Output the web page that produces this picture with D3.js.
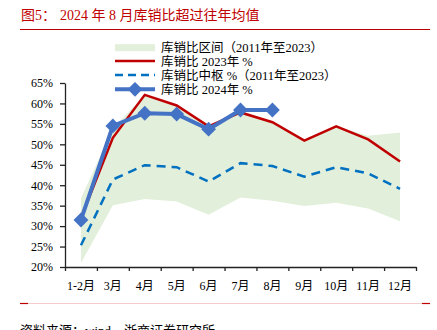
<!DOCTYPE html>
<html><head><meta charset="utf-8">
<script src="https://cdn.jsdelivr.net/npm/d3@7"></script>
<style>
html,body{margin:0;padding:0;background:#fff;}
svg{display:block;}
text{font-family:"Liberation Serif","Times New Roman","Noto Sans CJK SC",serif;}
</style></head>
<body>
<svg id="c" width="437" height="330"></svg>
<script>
const categories = ["1-2月","3月","4月","5月","6月","7月","8月","9月","10月","11月","12月"];
const rangeUpper = [36.8,53.8,62.1,59.5,54.4,57.8,55.4,50.9,54.4,52.1,52.9];
const rangeLower = [21.0,35.1,36.6,36.0,32.8,37.0,36.2,34.9,35.7,34.3,31.2];
const median = [25.3,41.4,44.9,44.4,40.9,45.4,44.7,42.1,44.4,42.9,39.1];
const y2023 = [32.0,51.6,62.1,59.5,54.4,57.8,55.4,50.9,54.4,51.2,45.8];
const y2024 = [31.5,54.5,57.6,57.4,53.7,58.4,58.4];
const yTicks = [20,25,30,35,40,45,50,55,60,65];
const legendLabels = ["库销比区间（2011年至2023）","库销比 2023年 %","库销比中枢 %（2011年至2023）","库销比 2024年 %"];
const titleLead = "图5：";
const titleText = "2024 年 8 月库销比超过往年均值";
const sourceText = "资料来源：wind，浙商证券研究所";

const RED = "#c00000", BLUE = "#4472c4", DASH = "#0070c0", GREEN = "#e2efda";
const svg = d3.select("#c");

// title
svg.append("text").attr("x",21).attr("y",20).attr("fill",RED).attr("font-size",14).text(titleLead);
svg.append("text").attr("x",60).attr("y",20).attr("fill",RED).attr("font-size",14).text(titleText);
svg.append("line").attr("x1",20).attr("x2",430).attr("y1",29.5).attr("y2",29.5).attr("stroke",RED).attr("stroke-width",1);

// scales
const x = d3.scaleBand().domain(categories).range([65,416]).padding(0);
const xb = d3.scaleLinear().domain([0,categories.length]).range([65,416]);
const y = d3.scaleLinear().domain([20,65]).range([267,83]);
const cx = c => x(c) + x.bandwidth()/2;

// area
const area = d3.area().x((d,i)=>cx(categories[i])).y0((d,i)=>y(rangeLower[i])).y1(d=>y(d));
svg.append("path").datum(rangeUpper).attr("d",area).attr("fill",GREEN);

// median dashed
const line = d3.line().x((d,i)=>cx(categories[i])).y(d=>y(d));
svg.append("path").datum(median).attr("d",line).attr("fill","none").attr("stroke",DASH)
  .attr("stroke-width",2.5).attr("stroke-dasharray","9,6");
// 2023
svg.append("path").datum(y2023).attr("d",line).attr("fill","none").attr("stroke",RED).attr("stroke-width",2.5);
// 2024
svg.append("path").datum(y2024).attr("d",line).attr("fill","none").attr("stroke",BLUE).attr("stroke-width",4).attr("stroke-linejoin","round");
const sym = d3.symbol().type(d3.symbolSquare).size(110);
svg.selectAll(".mk").data(y2024).join("path").attr("class","mk").attr("d",sym)
  .attr("transform",(d,i)=>`translate(${cx(categories[i])},${y(d)}) rotate(45)`).attr("fill",BLUE);

// axes
const yAxis = svg.append("g").attr("transform","translate(65,0)")
  .call(d3.axisLeft(y).tickValues(yTicks).tickFormat(d=>d+"%").tickSize(5).tickSizeOuter(0).tickPadding(7));
yAxis.selectAll("text").attr("font-size",12).attr("fill","#000");
yAxis.selectAll("line,path").attr("stroke","#222").attr("stroke-width",1.3);

const xTickAxis = svg.append("g").attr("transform","translate(0,267)")
  .call(d3.axisBottom(xb).tickValues(d3.range(0,categories.length+1)).tickFormat("").tickSize(4).tickSizeOuter(0));
xTickAxis.selectAll("line,path").attr("stroke","#222").attr("stroke-width",1.3);
const xLab = svg.append("g").attr("transform","translate(0,267)")
  .call(d3.axisBottom(x).tickSize(0).tickPadding(14));
xLab.select(".domain").remove();
xLab.selectAll("text").attr("font-size",12).attr("fill","#000");

// legend
const lg = svg.append("g");
const rows = [47.7,61,75,89.3];
lg.append("rect").attr("x",115).attr("y",rows[0]-3.5).attr("width",40).attr("height",7).attr("fill",GREEN);
lg.append("line").attr("x1",115).attr("x2",155).attr("y1",rows[1]).attr("y2",rows[1]).attr("stroke",RED).attr("stroke-width",2.5);
lg.append("line").attr("x1",115).attr("x2",155).attr("y1",rows[2]).attr("y2",rows[2]).attr("stroke",DASH).attr("stroke-width",2.5).attr("stroke-dasharray","8,5");
lg.append("line").attr("x1",115).attr("x2",155).attr("y1",rows[3]).attr("y2",rows[3]).attr("stroke",BLUE).attr("stroke-width",4);
lg.append("path").attr("d",sym).attr("transform",`translate(135,${rows[3]}) rotate(45)`).attr("fill",BLUE);
lg.selectAll("text").data(legendLabels).join("text").attr("x",161).attr("y",(d,i)=>rows[i]+4.5)
  .attr("font-size",12.5).attr("fill","#000").text(d=>d);

// bottom rule + source
svg.append("line").attr("x1",20).attr("x2",430).attr("y1",303.5).attr("y2",303.5).attr("stroke","#f5cccc").attr("stroke-width",1);
svg.append("line").attr("x1",20).attr("x2",28).attr("y1",303.5).attr("y2",303.5).attr("stroke",RED).attr("stroke-width",1.2);
svg.append("line").attr("x1",422).attr("x2",430).attr("y1",303.5).attr("y2",303.5).attr("stroke",RED).attr("stroke-width",1.2);
svg.append("text").attr("x",20).attr("y",335).attr("font-size",13).attr("fill","#000").text(sourceText);
</script>
</body></html>
